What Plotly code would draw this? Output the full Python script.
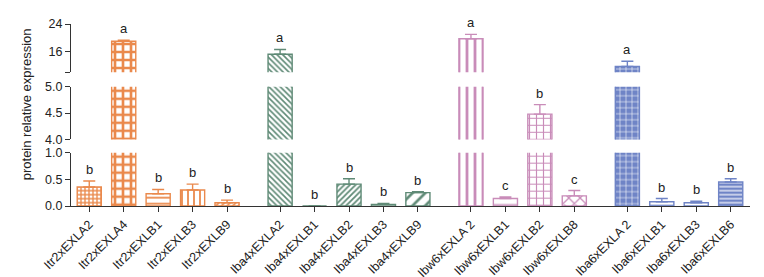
import plotly.graph_objects as go

# ---- data ----
groups = ["Itr2x", "Iba4x", "Ibw6x", "Iba6x"]
group_colors = ["#EA894C", "#5F8A76", "#C98CB9", "#6F84C6"]

itr2_labels = ["Itr2xEXLA2", "Itr2xEXLA4", "Itr2xEXLB1", "Itr2xEXLB3", "Itr2xEXLB9"]
itr2_values = [0.355, 19.0, 0.23, 0.30, 0.06]
itr2_errors = [0.115, 0.3, 0.08, 0.11, 0.05]
itr2_letters = ["b", "a", "b", "b", "b"]

iba4_labels = ["Iba4xEXLA2", "Iba4xEXLB1", "Iba4xEXLB2", "Iba4xEXLB3", "Iba4xEXLB9"]
iba4_values = [15.2, 0.0, 0.41, 0.03, 0.25]
iba4_errors = [1.4, 0.0, 0.10, 0.02, 0.02]
iba4_letters = ["a", "b", "b", "b", "b"]

ibw6_labels = ["Ibw6xEXLA 2", "Ibw6xEXLB1", "Ibw6xEXLB2", "Ibw6xEXLB8"]
ibw6_values = [19.7, 0.14, 4.48, 0.19]
ibw6_errors = [1.3, 0.03, 0.18, 0.10]
ibw6_letters = ["a", "c", "b", "c"]

iba6_labels = ["Iba6xEXLA 2", "Iba6xEXLB1", "Iba6xEXLB3", "Iba6xEXLB6"]
iba6_values = [11.7, 0.08, 0.06, 0.45]
iba6_errors = [1.5, 0.06, 0.03, 0.06]
iba6_letters = ["a", "b", "b", "b"]

group_labels = [itr2_labels, iba4_labels, ibw6_labels, iba6_labels]
group_values = [itr2_values, iba4_values, ibw6_values, iba6_values]
group_errors = [itr2_errors, iba4_errors, ibw6_errors, iba6_errors]
group_letters = [itr2_letters, iba4_letters, ibw6_letters, iba6_letters]

# pattern styles: (shape, fg_is_color, size, solidity)
W = "white"
styles = [
    [("+", True, 4, 0.55), ("+", True, 8, 0.55), ("-", True, 6, 0.3), ("|", True, 6, 0.3), ("/", True, 4, 0.4)],
    [("\\", True, 4, 0.4), ("", True, 4, 0.3), ("/", True, 4, 0.45), ("", True, 4, 0.3), ("/", True, 9, 0.3)],
    [("|", True, 8, 0.35), ("-", True, 8, 0.15), ("+", True, 7, 0.3), ("x", True, 8, 0.3)],
    [("+", False, 6, 0.18), ("-", True, 5, 0.2), ("", True, 4, 0.3), ("-", False, 4, 0.3)],
]

# segments of the broken y-axis
segments = [
    dict(name="y", domain=[0, 0.293], range=[0, 1], tickvals=[0, 0.5, 1.0], ticktext=["0.0", "0.5", "1.0"]),
    dict(name="y2", domain=[0.366, 0.655], range=[4, 5], tickvals=[4.0, 4.5, 5.0], ticktext=["4.0", "4.5", "5.0"]),
    dict(name="y3", domain=[0.735, 1.0], range=[10, 24], tickvals=[10, 16, 24], ticktext=["", "16", "24"]),
]

gap_extra = 0.54
fig = go.Figure()

all_pos, all_text = [], []
idx = 0
group_pos = []
for g in range(len(groups)):
    pos = []
    for j in range(len(group_labels[g])):
        pos.append(idx + gap_extra * g)
        idx += 1
    group_pos.append(pos)
    all_pos += pos
    all_text += group_labels[g]

for g in range(len(groups)):
    c = group_colors[g]
    for j, (p, v, e) in enumerate(zip(group_pos[g], group_values[g], group_errors[g])):
        shape, fg_col, size, sol = styles[g][j]
        if shape == "":
            marker = dict(color=W, line=dict(color=c, width=1.4))
        elif fg_col:
            marker = dict(color=c, line=dict(color=c, width=1.4),
                          pattern=dict(shape=shape, fgcolor=c, bgcolor=W, size=size,
                                       solidity=sol, fillmode="replace", fgopacity=1))
        else:
            marker = dict(color=c, line=dict(color=c, width=1.4),
                          pattern=dict(shape=shape, fgcolor=W, size=size,
                                       solidity=sol, fillmode="overlay", fgopacity=1))
        for seg in segments:
            fig.add_trace(go.Bar(
                x=[p], y=[v], xaxis="x", yaxis=seg["name"], width=0.7,
                marker=marker,
                error_y=dict(type="data", symmetric=False, array=[e], arrayminus=[0],
                             color=c, thickness=1.4, width=6),
                showlegend=False, hoverinfo="skip",
            ))

# letters
annotations = []
for g in range(len(groups)):
    for p, v, e, t in zip(group_pos[g], group_values[g], group_errors[g], group_letters[g]):
        top = v + e
        if top <= 1:
            yr = "y"
        elif top <= 5:
            yr = "y2"
        else:
            yr = "y3"
        annotations.append(dict(x=p, y=top, xref="x", yref=yr, text=t, showarrow=False,
                                yanchor="bottom", yshift=2,
                                font=dict(size=13, color="#222", family="Liberation Sans")))

annotations.append(dict(x=-0.066, y=0.56, xref="paper", yref="paper",
                        text="protein relative expression", textangle=-90, showarrow=False,
                        xanchor="center", yanchor="middle",
                        font=dict(size=13, color="#222", family="Liberation Sans")))

axis_common = dict(showline=True, linecolor="#333", linewidth=1.3, ticks="outside",
                   ticklen=5, tickwidth=1.3, tickcolor="#333", showgrid=False, zeroline=False,
                   automargin=False,
                   tickfont=dict(size=12.5, color="#222", family="Liberation Sans"), anchor="x")

layout = dict(
    width=764, height=277,
    margin=dict(l=71, r=14, t=24, b=71, autoexpand=False),
    paper_bgcolor="white", plot_bgcolor="white",
    barmode="overlay",
    annotations=annotations,
    xaxis=dict(range=[-0.53, all_pos[-1] + 0.56], tickvals=all_pos, ticktext=all_text,
               tickangle=-45, showline=True, linecolor="#333", linewidth=1.3,
               ticks="outside", ticklen=5, tickwidth=1.3, tickcolor="#333",
               showgrid=False, zeroline=False, anchor="y", automargin=False,
               tickfont=dict(size=12.5, color="#222", family="Liberation Sans")),
)
for seg in segments:
    key = "yaxis" if seg["name"] == "y" else "yaxis" + seg["name"][1:]
    layout[key] = dict(domain=seg["domain"], range=seg["range"], tickvals=seg["tickvals"],
                       ticktext=seg["ticktext"], **axis_common)

fig.update_layout(**layout)
fig.write_html("out.html")
